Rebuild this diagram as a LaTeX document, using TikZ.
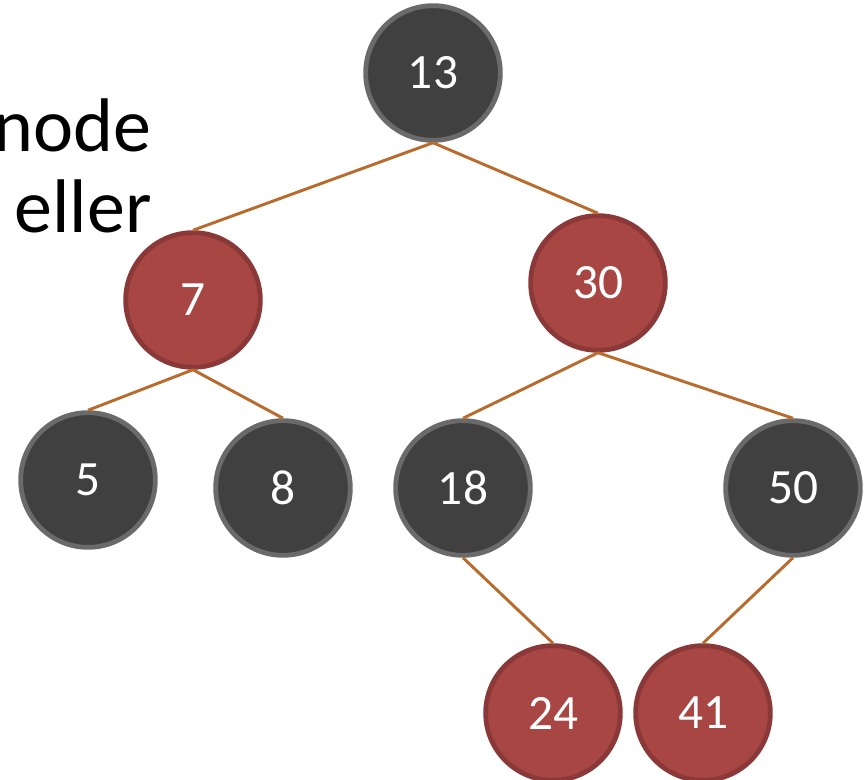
\documentclass[tikz,border=0pt]{standalone}
\usepackage{fontspec}
\setmainfont{Carlito}
\usetikzlibrary{positioning}
\definecolor{Coal}   {HTML}{404040}
\definecolor{CoalD}  {HTML}{6A6A6A}
\definecolor{Rust}   {HTML}{A84644}
\definecolor{RustD}  {HTML}{8A3838}
\definecolor{Twig}   {HTML}{B86B2C}
\tikzset{
  rbn/.style args={#1/#2}{
    circle, draw=#1, fill=#2, text=white,
    font=\fontsize{37}{40}\selectfont,
    minimum size=101pt, inner sep=0pt,
    line width=3.6pt,
  },
  blk/.style={rbn=CoalD/Coal},
  red/.style={rbn=RustD/Rust},
  edg/.style={
    line width=2.2pt, color=Twig,
  },
  txt/.style={
    font=\fontsize{57}{60}\selectfont, text=black,
    inner sep=0pt, anchor=base east,
  },
}

\begin{document}
\begin{tikzpicture}[x=0.75pt,y=-0.75pt]
    \useasboundingbox (0,0) rectangle (865,780);
    \clip (0,0) rectangle (865,780);

    % text running in from the left
    \node[txt] (t1) at (152,152) {node};
    \node[txt] (t2) at (152,233) {eller};
    \node[txt] (t3) at (4,314)   {:};

    \node[blk] (n13) at (433,73)  {13};
    \node[red] (n7)  at (193,300) {7};
    \node[red] (n30) at (598,283) {30};
    \node[blk] (n5)  at (88,480)  {5};
    \node[blk] (n8)  at (283,488) {8};
    \node[blk] (n18) at (463,488) {18};
    \node[blk] (n50) at (793,488) {50};
    \node[red] (n24) at (553,713) {24};
    \node[red] (n41) at (703,713) {41};

    \draw[edg](n13.south)--(n7.north);  \draw[edg](n13.south)--(n30.north);
    \draw[edg](n7.south)--(n5.north);   \draw[edg](n7.south)--(n8.north);
    \draw[edg](n30.south)--(n18.north); \draw[edg](n30.south)--(n50.north);
    \draw[edg](n18.south)--(n24.north); \draw[edg](n50.south)--(n41.north);
  \end{tikzpicture}
\end{document}
